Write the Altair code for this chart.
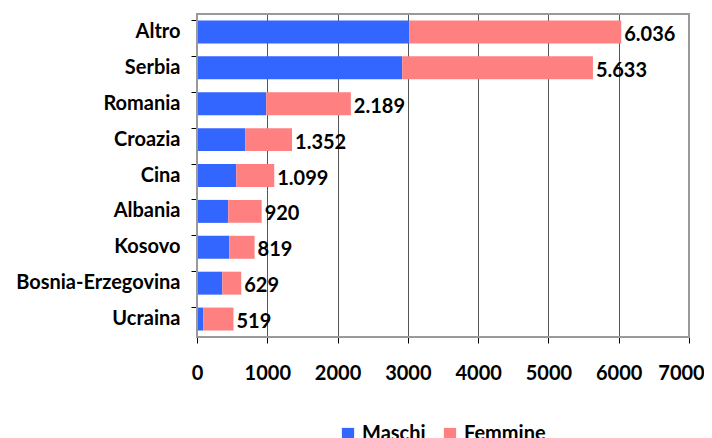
import altair as alt
import pandas as pd

countries = ["Altro", "Serbia", "Romania", "Croazia", "Cina", "Albania", "Kosovo", "Bosnia-Erzegovina", "Ucraina"]
totals = [6036, 5633, 2189, 1352, 1099, 920, 819, 629, 519]
maschi = [3020, 2920, 985, 687, 559, 445, 459, 360, 90]
series = ["Maschi", "Femmine"]
colors = ["#3366FF", "#FF8080"]
x_ticks = [0, 1000, 2000, 3000, 4000, 5000, 6000, 7000]

rows = []
for c, t, m in zip(countries, totals, maschi):
    rows.append({"Paese": c, "Sesso": "Maschi", "Valore": m, "ord": 0})
    rows.append({"Paese": c, "Sesso": "Femmine", "Valore": t - m, "ord": 1})
df = pd.DataFrame(rows)
lab = pd.DataFrame({"Paese": countries, "Totale": totals,
                    "Etichetta": [f"{t:,}".replace(",", ".") for t in totals]})

FONT = "Lato"
XMAX = x_ticks[-1]
xscale = alt.Scale(domain=[0, XMAX], nice=False)

y_enc = alt.Y("Paese:N", sort=countries, title=None,
              scale=alt.Scale(paddingInner=0.36, paddingOuter=0.18),
              axis=alt.Axis(bandPosition=0, labelFontSize=20, labelFontWeight="bold",
                            labelFont=FONT, labelColor="black", labelPadding=11,
                            tickSize=6, tickColor="black", domainColor="black",
                            grid=False))

bars = alt.Chart(df).mark_bar().encode(
    x=alt.X("Valore:Q", stack="zero", title=None, scale=xscale,
            axis=alt.Axis(values=x_ticks, format="d", labelFontSize=20, labelFontWeight="bold",
                          labelFont=FONT, labelColor="black", labelPadding=20, labelFlush=False,
                          labelOverlap=False,
                          labelOffset=alt.condition(f"datum.value == {XMAX}", alt.value(-8), alt.value(0)),
                          tickSize=6, tickColor="black", domainColor="black",
                          grid=True, gridColor="#555555", gridWidth=1)),
    y=y_enc,
    color=alt.Color("Sesso:N", scale=alt.Scale(domain=series, range=colors), title=None,
                    legend=alt.Legend(orient="none", legendX=141, legendY=410, direction="horizontal",
                                      symbolType="square", symbolSize=150, symbolStrokeWidth=0,
                                      labelFontSize=20, labelFontWeight="bold", labelFont=FONT,
                                      labelColor="black", columnPadding=14, labelOffset=4,
                                      padding=0)),
    order=alt.Order("ord:Q"),
)

text = alt.Chart(lab).mark_text(align="left", baseline="middle", dx=3, dy=3,
                                fontSize=20, fontWeight="bold", font=FONT, color="black").encode(
    x=alt.X("Totale:Q", scale=xscale),
    y=alt.Y("Paese:N", sort=countries),
    text="Etichetta:N",
)

border = alt.Chart(lab).mark_rect(fill="transparent", stroke="#9A9A9A", strokeWidth=1.2).encode(
    x=alt.value(0), x2=alt.value({"expr": "width"}),
    y=alt.value(0), y2=alt.value({"expr": "height"}))

chart = alt.layer(bars, text, border).properties(
    width=492, height=323,
    autosize=alt.AutoSizeParams(type="none"),
    padding={"left": 189, "top": 6, "right": 15, "bottom": 101},
    background="white",
).configure_view(stroke="#A0A0A0", strokeWidth=1)

chart.save("out.html", embed_options={"renderer": "svg", "actions": False})
